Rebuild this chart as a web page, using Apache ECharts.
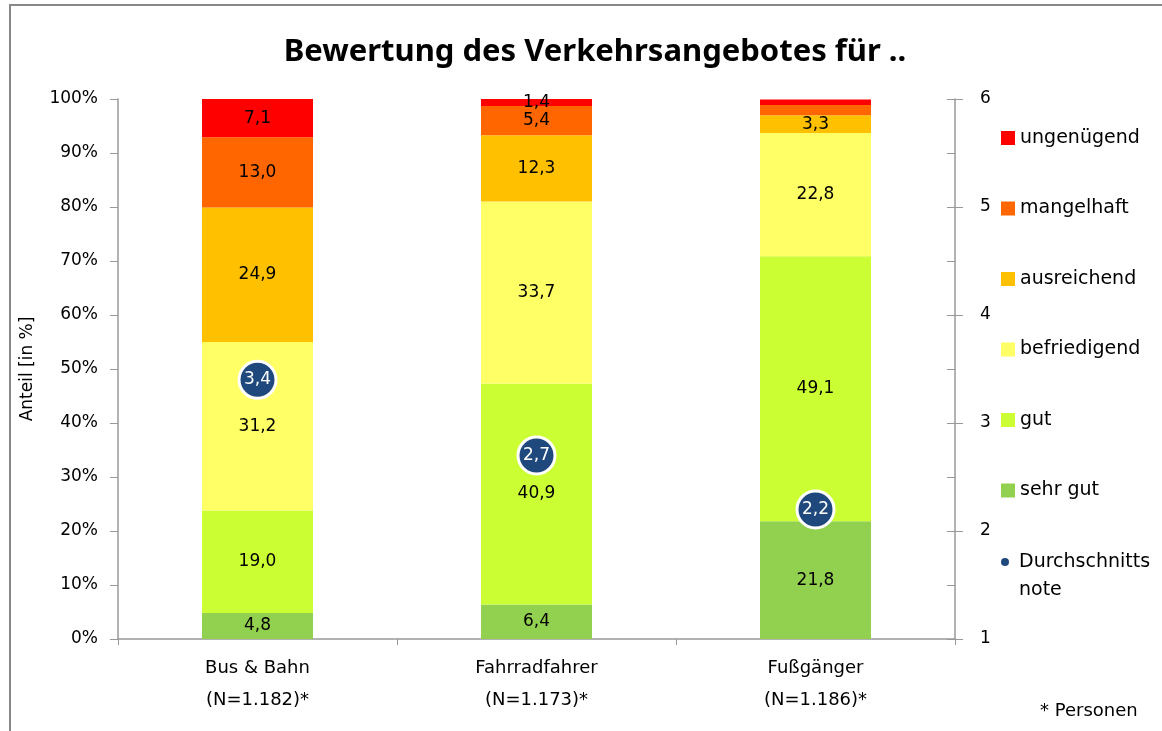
<!DOCTYPE html>
<html>
<head>
<meta charset="utf-8">
<script src="https://cdn.jsdelivr.net/npm/echarts@6/dist/echarts.min.js"></script>
<style>
  html, body { margin: 0; padding: 0; background: #fff; }
  #chart { width: 1162px; height: 731px; }
</style>
</head>
<body>
<div id="chart"></div>
<script>
// data
let categories   = ['Bus & Bahn\n(N=1.182)*', 'Fahrradfahrer\n(N=1.173)*', 'Fußgänger\n(N=1.186)*'];
let sehrGut      = [4.8, 6.4, 21.8];
let gut          = [19.0, 40.9, 49.1];
let befriedigend = [31.2, 33.7, 22.8];
let ausreichend  = [24.9, 12.3, 3.3];
let mangelhaft   = [13.0, 5.4, 1.9];
let ungenuegend  = [7.1, 1.4, 1.0];
let durchschnitt = [3.4, 2.7, 2.2];
let hiddenLabels = { mangelhaft: [2], ungenuegend: [2] };   // no label in the original
let percentTicks = [0, 10, 20, 30, 40, 50, 60, 70, 80, 90, 100];

let font = '"DejaVu Sans", "Noto Sans", sans-serif';
let titleFont = '"Noto Sans", "Open Sans", sans-serif';
let comma = v => v.toFixed(1).replace('.', ',');
let noteName = 'Durchschnitts\nnote';

let chart = echarts.init(document.getElementById('chart'), null, { renderer: 'canvas' });

function barSeries(name, key, values, color) {
    let hide = hiddenLabels[key] || [];
    return {
        name: name,
        type: 'bar',
        stack: 'total',
        yAxisIndex: 0,
        barWidth: 111,
        itemStyle: { color: color },
        label: {
            show: true,
            position: 'inside',
            color: '#000',
            fontFamily: font,
            fontSize: 17,
            formatter: p => comma(p.value)
        },
        data: values.map((v, i) => hide.indexOf(i) >= 0 ? { value: v, label: { show: false } } : v)
    };
}

let option = {
    animation: false,
    backgroundColor: '#fff',
    title: {
        text: 'Bewertung des Verkehrsangebotes für ..',
        left: 590,
        textAlign: 'center',
        top: 32,
        textStyle: { fontFamily: titleFont, fontSize: 31, fontWeight: 'bold', color: '#000' }
    },
    graphic: [
        { type: 'rect', shape: { x: 10, y: 5, width: 1200, height: 800 },
          style: { fill: 'none', stroke: '#888', lineWidth: 2 }, silent: true },
        { type: 'text', left: 1040, top: 702,
          style: { text: '* Personen', font: '18px ' + font, fill: '#000' } }
    ],
    legend: [
        {
            orient: 'vertical',
            left: 996,
            top: 121,
            itemGap: 46.5,
            itemWidth: 14,
            itemHeight: 14,
            textStyle: { fontFamily: font, fontSize: 19, color: '#000', lineHeight: 24 },
            data: ['ungenügend', 'mangelhaft', 'ausreichend', 'befriedigend', 'gut', 'sehr gut']
                .map(n => ({ name: n, icon: 'rect' }))
        },
        {
            orient: 'vertical',
            left: 996,
            top: 515,
            itemWidth: 8,
            itemHeight: 8,
            itemGap: 4,
            textStyle: { fontFamily: font, fontSize: 19, color: '#000', lineHeight: 28,
                         padding: [0, 0, 0, 5] },
            formatter: n => ' \n' + n,
            data: [{ name: noteName, icon: 'circle', itemStyle: { borderWidth: 0 } }]
        }
    ],
    grid: { left: 118, right: 207, top: 99, bottom: 92 },
    xAxis: {
        type: 'category',
        data: categories,
        boundaryGap: true,
        axisLine: { lineStyle: { color: '#999', width: 1.5 } },
        axisTick: { show: true, length: 6, lineStyle: { color: '#999' } },
        axisLabel: { color: '#000', fontFamily: font, fontSize: 18, lineHeight: 32, margin: 13 }
    },
    yAxis: [
        {
            type: 'value',
            min: 0, max: 100, interval: 10,
            name: 'Anteil [in %]',
            nameLocation: 'middle',
            nameGap: 82,
            nameTextStyle: { color: '#000', fontFamily: font, fontSize: 17 },
            axisLine: { show: true, lineStyle: { color: '#999', width: 1.5 } },
            axisTick: { show: true, length: 8, lineStyle: { color: '#999' } },
            splitLine: { show: false },
            axisLabel: { color: '#000', fontFamily: font, fontSize: 17, margin: 20,
                         formatter: v => percentTicks.indexOf(v) >= 0 ? v + '%' : '' }
        },
        {
            type: 'value',
            min: 1, max: 6, interval: 1,
            position: 'right',
            axisLine: { show: true, lineStyle: { color: '#999', width: 1.5 } },
            axisTick: { show: true, length: 8, lineStyle: { color: '#999' } },
            splitLine: { show: false },
            axisLabel: { color: '#000', fontFamily: font, fontSize: 17, margin: 25 }
        },
        {
            // inward tick marks on the right axis every 10%
            type: 'value',
            min: 0, max: 100, interval: 10,
            position: 'right',
            axisLine: { show: false },
            axisTick: { show: true, inside: true, length: 8, lineStyle: { color: '#999' } },
            axisLabel: { show: false },
            splitLine: { show: false }
        }
    ],
    series: [
        barSeries('sehr gut', 'sehrGut', sehrGut, '#92d050'),
        barSeries('gut', 'gut', gut, '#ccff33'),
        barSeries('befriedigend', 'befriedigend', befriedigend, '#ffff66'),
        barSeries('ausreichend', 'ausreichend', ausreichend, '#ffc000'),
        barSeries('mangelhaft', 'mangelhaft', mangelhaft, '#ff6600'),
        barSeries('ungenügend', 'ungenuegend', ungenuegend, '#ff0000'),
        {
            name: noteName,
            type: 'scatter',
            yAxisIndex: 1,
            symbol: 'circle',
            symbolSize: 37,
            z: 5,
            itemStyle: { color: '#1f497d', opacity: 1, borderColor: '#fff', borderWidth: 3 },
            label: {
                show: true,
                position: 'inside',
                color: '#fff',
                fontFamily: font,
                fontSize: 17,
                formatter: p => comma(p.value)
            },
            data: durchschnitt
        }
    ]
};

chart.setOption(option);
</script>
</body>
</html>
